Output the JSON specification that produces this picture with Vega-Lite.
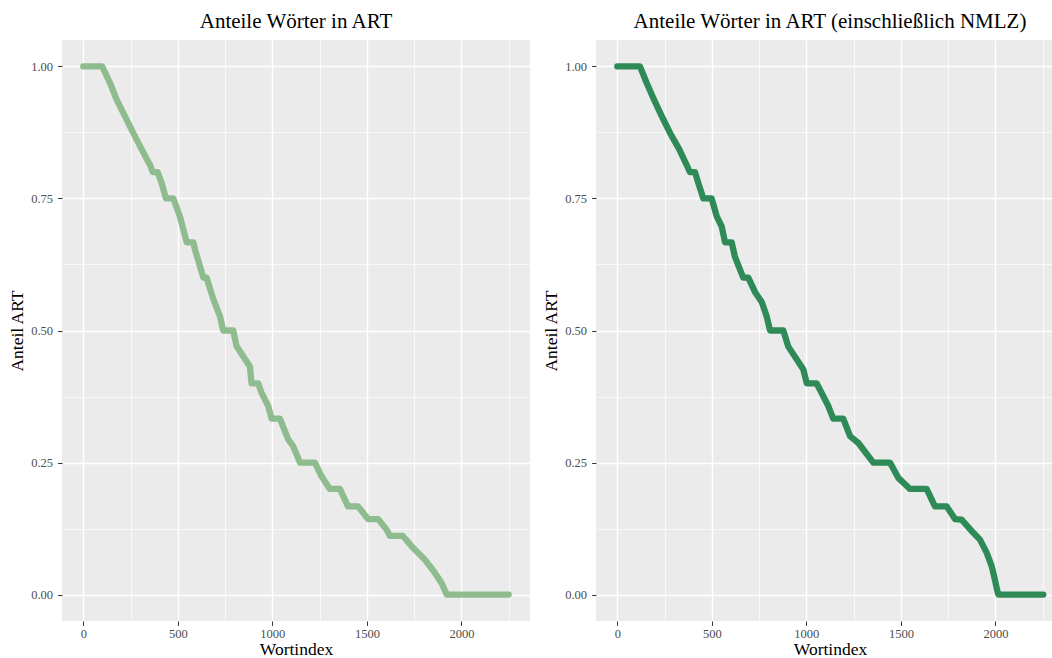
{
  "$schema": "https://vega.github.io/schema/vega-lite/v6.json",
  "background": "white",
  "padding": {"left": 8, "top": 11, "right": 0, "bottom": 0},
  "config": {
    "font": "Liberation Serif",
    "view": {"fill": "#EBEBEB", "stroke": null},
    "axis": {
      "domain": false,
      "gridColor": "#FFFFFF",
      "tickColor": "#333333",
      "tickSize": 4.4,
      "tickWidth": 1,
      "labelColor": "#4D4D4D",
      "labelFont": "Liberation Serif",
      "labelFontSize": 12.5,
      "titleFont": "Liberation Serif",
      "titleFontSize": 17.5,
      "titleFontWeight": "normal",
      "titleColor": "#000000"
    },
    "axisX": {"labelPadding": 2, "titlePadding": 1},
    "axisY": {"labelPadding": 5, "titlePadding": 4},
    "title": {"font": "Liberation Serif", "fontSize": 21, "fontWeight": "normal", "color": "#000000", "anchor": "middle", "frame": "group", "offset": 8},
    "concat": {"spacing": 12}
  },
  "datasets": {
    "art": [
      {"i": 0, "anteil": 1}, {"i": 100, "anteil": 1}, {"i": 141, "anteil": 0.969}, {"i": 176, "anteil": 0.9375},
      {"i": 220, "anteil": 0.906}, {"i": 264, "anteil": 0.874}, {"i": 309, "anteil": 0.843}, {"i": 356, "anteil": 0.811},
      {"i": 367, "anteil": 0.8}, {"i": 393, "anteil": 0.8}, {"i": 414, "anteil": 0.78}, {"i": 437, "anteil": 0.75},
      {"i": 476, "anteil": 0.75}, {"i": 511, "anteil": 0.716}, {"i": 547, "anteil": 0.667}, {"i": 582, "anteil": 0.667},
      {"i": 591, "anteil": 0.653}, {"i": 635, "anteil": 0.6}, {"i": 652, "anteil": 0.6}, {"i": 688, "anteil": 0.559},
      {"i": 723, "anteil": 0.527}, {"i": 740, "anteil": 0.5}, {"i": 793, "anteil": 0.5}, {"i": 811, "anteil": 0.47},
      {"i": 881, "anteil": 0.432}, {"i": 890, "anteil": 0.4}, {"i": 925, "anteil": 0.4}, {"i": 943, "anteil": 0.382},
      {"i": 978, "anteil": 0.357}, {"i": 996, "anteil": 0.333}, {"i": 1040, "anteil": 0.333}, {"i": 1084, "anteil": 0.294},
      {"i": 1110, "anteil": 0.281}, {"i": 1146, "anteil": 0.25}, {"i": 1225, "anteil": 0.25}, {"i": 1260, "anteil": 0.224},
      {"i": 1304, "anteil": 0.2}, {"i": 1357, "anteil": 0.2}, {"i": 1400, "anteil": 0.167}, {"i": 1453, "anteil": 0.167},
      {"i": 1506, "anteil": 0.143}, {"i": 1559, "anteil": 0.143}, {"i": 1604, "anteil": 0.123}, {"i": 1622, "anteil": 0.111},
      {"i": 1690, "anteil": 0.111}, {"i": 1745, "anteil": 0.088}, {"i": 1807, "anteil": 0.066}, {"i": 1860, "anteil": 0.041},
      {"i": 1895, "anteil": 0.022}, {"i": 1922, "anteil": 0}, {"i": 2250, "anteil": 0}
    ],
    "nmlz": [
      {"i": 0, "anteil": 1}, {"i": 120, "anteil": 1}, {"i": 155, "anteil": 0.969}, {"i": 194, "anteil": 0.9375},
      {"i": 235, "anteil": 0.906}, {"i": 279, "anteil": 0.874}, {"i": 328, "anteil": 0.843}, {"i": 370, "anteil": 0.811},
      {"i": 384, "anteil": 0.8}, {"i": 411, "anteil": 0.8}, {"i": 428, "anteil": 0.78}, {"i": 455, "anteil": 0.75},
      {"i": 499, "anteil": 0.75}, {"i": 526, "anteil": 0.716}, {"i": 552, "anteil": 0.697}, {"i": 570, "anteil": 0.667},
      {"i": 605, "anteil": 0.667}, {"i": 622, "anteil": 0.64}, {"i": 666, "anteil": 0.6}, {"i": 693, "anteil": 0.6},
      {"i": 728, "anteil": 0.573}, {"i": 764, "anteil": 0.554}, {"i": 790, "anteil": 0.527}, {"i": 808, "anteil": 0.5},
      {"i": 878, "anteil": 0.5}, {"i": 904, "anteil": 0.47}, {"i": 984, "anteil": 0.426}, {"i": 1002, "anteil": 0.4},
      {"i": 1054, "anteil": 0.4}, {"i": 1089, "anteil": 0.376}, {"i": 1116, "anteil": 0.357}, {"i": 1142, "anteil": 0.333},
      {"i": 1195, "anteil": 0.333}, {"i": 1231, "anteil": 0.3}, {"i": 1275, "anteil": 0.287}, {"i": 1354, "anteil": 0.25},
      {"i": 1442, "anteil": 0.25}, {"i": 1486, "anteil": 0.221}, {"i": 1548, "anteil": 0.2}, {"i": 1636, "anteil": 0.2},
      {"i": 1680, "anteil": 0.167}, {"i": 1742, "anteil": 0.167}, {"i": 1786, "anteil": 0.143}, {"i": 1821, "anteil": 0.142},
      {"i": 1883, "anteil": 0.117}, {"i": 1918, "anteil": 0.104}, {"i": 1954, "anteil": 0.079}, {"i": 1980, "anteil": 0.054},
      {"i": 1997, "anteil": 0.028}, {"i": 2008, "anteil": 0.01}, {"i": 2015, "anteil": 0}, {"i": 2253, "anteil": 0}
    ]
  },
  "hconcat": [
    {
      "width": 468,
      "height": 581,
      "title": {"text": "Anteile Wörter in ART"},
      "data": {"name": "art"},
      "mark": {"type": "line", "color": "#8FBC8F", "strokeWidth": 6.3, "strokeCap": "round", "strokeJoin": "round", "clip": true},
      "encoding": {
        "x": {
          "field": "i", "type": "quantitative",
          "scale": {"domain": [-112.5, 2362.5], "nice": false, "zero": false},
          "axis": {
            "title": "Wortindex",
            "values": [0, 250, 500, 750, 1000, 1250, 1500, 1750, 2000, 2250],
            "format": "d",
            "labelExpr": "datum.value % 500 === 0 ? datum.label : ''",
            "gridWidth": {"expr": "datum.value % 500 === 0 ? 1.4 : 0.7"},
            "tickOpacity": {"expr": "datum.value % 500 === 0 ? 1 : 0"}
          }
        },
        "y": {
          "field": "anteil", "type": "quantitative",
          "scale": {"domain": [-0.05, 1.05], "nice": false, "zero": false},
          "axis": {
            "title": "Anteil ART",
            "values": [0, 0.125, 0.25, 0.375, 0.5, 0.625, 0.75, 0.875, 1],
            "format": ".2f",
            "labelExpr": "(datum.value * 8) % 2 === 0 ? datum.label : ''",
            "gridWidth": {"expr": "(datum.value * 8) % 2 === 0 ? 1.4 : 0.7"},
            "tickOpacity": {"expr": "(datum.value * 8) % 2 === 0 ? 1 : 0"}
          }
        }
      }
    },
    {
      "width": 456,
      "height": 581,
      "title": {"text": "Anteile Wörter in ART (einschließlich NMLZ)", "dx": 6},
      "data": {"name": "nmlz"},
      "mark": {"type": "line", "color": "#2E8B57", "strokeWidth": 6.3, "strokeCap": "round", "strokeJoin": "round", "clip": true},
      "encoding": {
        "x": {
          "field": "i", "type": "quantitative",
          "scale": {"domain": [-112.5, 2299], "nice": false, "zero": false},
          "axis": {
            "title": "Wortindex",
            "titleX": 234,
            "values": [0, 250, 500, 750, 1000, 1250, 1500, 1750, 2000, 2250],
            "format": "d",
            "labelExpr": "datum.value % 500 === 0 ? datum.label : ''",
            "gridWidth": {"expr": "datum.value % 500 === 0 ? 1.4 : 0.7"},
            "tickOpacity": {"expr": "datum.value % 500 === 0 ? 1 : 0"}
          }
        },
        "y": {
          "field": "anteil", "type": "quantitative",
          "scale": {"domain": [-0.05, 1.05], "nice": false, "zero": false},
          "axis": {
            "title": "Anteil ART",
            "values": [0, 0.125, 0.25, 0.375, 0.5, 0.625, 0.75, 0.875, 1],
            "format": ".2f",
            "labelExpr": "(datum.value * 8) % 2 === 0 ? datum.label : ''",
            "gridWidth": {"expr": "(datum.value * 8) % 2 === 0 ? 1.4 : 0.7"},
            "tickOpacity": {"expr": "(datum.value * 8) % 2 === 0 ? 1 : 0"}
          }
        }
      }
    }
  ]
}
